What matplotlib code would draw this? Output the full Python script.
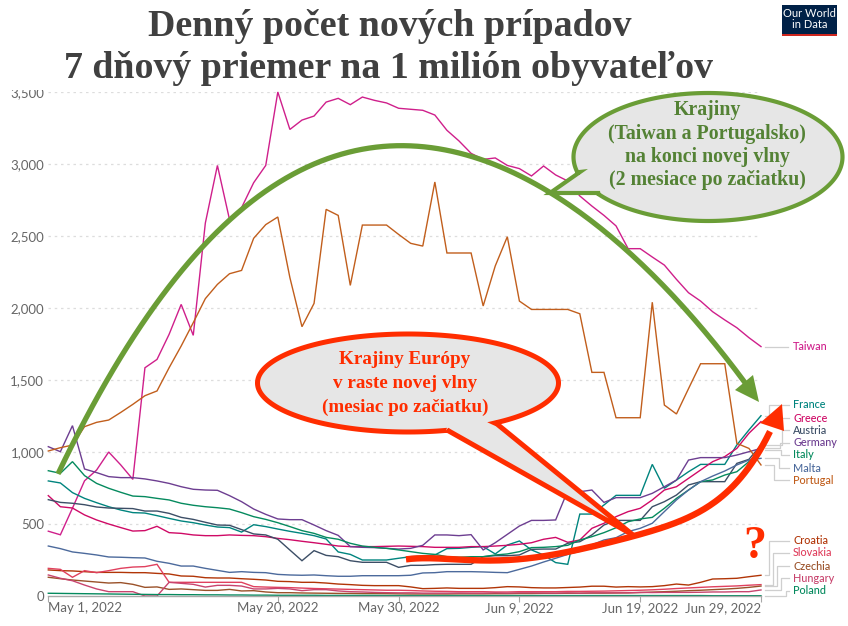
import numpy as np
import pandas as pd
import matplotlib
matplotlib.use("Agg")
import matplotlib.pyplot as plt
from matplotlib.patches import Polygon, Rectangle

W, H = 848, 626
dates = pd.date_range("2022-05-01", periods=60)

taiwan = [450,425,610,800,875,1000,910,810,1585,1643, 1817,2025,1810,2590,2990,2615,2697,2870,2990,3500,
          3240,3305,3333,3430,3456,3412,3465,3442,3424,3387, 3380,3373,3340,3234,3160,3074,3032,3042,2990,2968,
          2917,2986,2924,2882,2778,2708,2643,2570,2412,2412, 2354,2298,2199,2106,2048,1974,1917,1863,1794,1732]
portugal = [1007,1030,1048,1176,1206,1222,1275,1331,1391,1424, 1585,1736,1898,2065,2164,2238,2261,2484,2579,2632,
            2211,1870,2032,2685,2643,2157,2576,2576,2576,2511, 2449,2430,2875,2382,2382,2382,2014,2292,2495,2048,
            1990,1990,1990,1990,1960,1553,1553,1238,1238,1238, 2040,1326,1264,1440,1613,1613,1613,1060,1025,910]
germany = [1037,1002,1183,882,857,829,822,822,813,799, 782,759,741,736,734,697,655,604,567,535,
           530,530,493,454,421,343,338,336,331,326, 331,352,424,424,419,426,320,370,428,486,
           525,525,528,731,724,736,650,683,683,683, 713,759,805,944,961,961,961,979,1002,1025]
italy = [870,852,933,836,782,748,720,694,690,678, 667,644,630,620,613,604,579,551,532,509,
         482,454,435,407,394,366,347,338,331,320, 308,296,289,273,269,273,273,285,292,308,
         336,338,343,352,389,412,440,474,516,535, 546,609,678,736,794,806,840,863,933,1014]
france = [799,785,718,678,648,620,597,579,576,558, 539,521,509,493,479,475,444,495,482,465,
          449,435,419,396,306,289,250,250,250,262, 273,278,285,329,331,338,343,292,354,382,
          320,285,232,220,569,569,632,699,699,699, 914,748,805,863,914,914,914,1049,1153,1252]
greece = [697,620,611,563,528,500,475,451,454,484, 440,435,424,419,419,424,421,419,412,400,
          391,380,370,359,347,343,343,343,345,347, 345,343,338,338,338,343,343,347,352,359,
          370,394,407,373,389,470,505,551,586,609, 667,736,759,817,875,933,968,1025,1130,1211]
austria = [669,650,644,634,618,611,609,607,590,590, 574,546,532,512,493,491,461,431,424,394,
           319,245,315,282,273,245,234,234,234,199, 213,213,218,220,220,220,273,280,280,285,
           324,326,326,366,377,424,493,525,525,525, 620,655,701,771,794,794,794,921,949,1049]
malta = [347,329,306,296,285,271,269,266,264,241, 227,208,208,192,178,164,169,164,162,150,
         146,144,146,141,137,137,141,141,141,141, 144,160,162,169,169,169,167,164,162,185,
         208,236,262,289,310,355,389,405,447,470, 505,586,667,736,794,833,868,910,944,956]
croatia = [181,176,174,169,164,164,164,162,162,157, 153,139,137,127,125,125,120,116,111,102,
           100,95,95,90,83,79,74,72,72,72, 63,51,53,56,53,53,53,58,65,63,
           58,56,56,59,62,68,68,62,65,63, 65,72,83,76,95,118,120,123,134,144]
slovakia = [192,185,130,176,162,176,192,201,204,220, 95,95,95,95,95,95,95,65,62,60,
            58,55,52,50,48,46,44,42,40,40, 38,35,33,32,30,30,30,28,28,30,
            30,30,30,32,32,33,34,36,38,40, 43,47,52,56,60,64,67,70,75,79]
czechia = [130,120,111,104,97,90,93,81,60,63, 46,49,44,39,39,46,35,37,28,23,
           23,21,20,19,18,18,17,17,16,15, 14,14,14,14,15,15,15,16,16,17,
           17,18,18,19,19,20,20,21,22,24, 27,30,33,37,40,44,48,53,60,69]
hungary = [146,123,106,76,49,30,30,30,0,0, 95,88,81,62,74,74,69,49,49,53,
           49,37,44,44,35,30,28,25,23,22, 22,20,20,20,21,20,20,22,20,22,
           22,21,20,22,20,22,22,22,22,25, 24,25,25,25,26,28,28,30,30,42]
poland = [19,18,17,16,15,14,13,12,11,10, 10,9,9,8,8,7,7,6,6,5,
          5,5,5,4,4,4,4,4,3,3, 3,3,3,3,3,3,3,3,3,3,
          3,3,3,3,3,3,3,3,3,3, 3,3,3,3,3,2,2,2,2,2]

y_ticks = [0, 500, 1000, 1500, 2000, 2500, 3000, 3500]
y_labels = ["0", "500", "1,000", "1,500", "2,000", "2,500", "3,000", "3,500"]
x_ticks = ["2022-05-01", "2022-05-20", "2022-05-30", "2022-06-09", "2022-06-19", "2022-06-29"]
x_labels = ["May 1, 2022", "May 20, 2022", "May 30, 2022", "Jun 9, 2022", "Jun 19, 2022", "Jun 29, 2022"]

# name, values, colour, label y (px), elbow x (px)
series = [
    ("Taiwan", taiwan, "#cf1f8b", 347, None),
    ("France", france, "#00847e", 405, 769),
    ("Greece", greece, "#cf0a66", 418, 779),
    ("Austria", austria, "#3c4e66", 430, 782),
    ("Germany", germany, "#6d3e91", 443, 780),
    ("Italy", italy, "#058a5e", 455, 781),
    ("Malta", malta, "#4c6a9c", 468, 779),
    ("Portugal", portugal, "#c15e1c", 480, 774),
    ("Croatia", croatia, "#b13507", 541, 769),
    ("Slovakia", slovakia, "#e0405e", 553, 773),
    ("Czechia", czechia, "#9a5129", 566, 777),
    ("Hungary", hungary, "#c8446e", 578, 781),
    ("Poland", poland, "#058a5e", 591, 786),
]

GREEN, GREEN_TXT = "#6a9d36", "#548235"
RED = "#ff2d00"
GREY = "#e6e6e6"
SERIF = "Liberation Serif"

fig = plt.figure(figsize=(W / 100, H / 100), dpi=100, facecolor="white")
L, R, T, B = 48.3, 761.0, 92.0, 596.0
ax = fig.add_axes([L / W, 1 - B / H, (R - L) / W, (B - T) / H])
ax.set_xlim(dates[0], dates[59])
ax.set_ylim(0, 3500)
for s in ["top", "right", "left"]:
    ax.spines[s].set_visible(False)
ax.spines["bottom"].set_color("#a8a8a8")
ax.spines["bottom"].set_linewidth(1)
ax.set_yticks(y_ticks, y_labels, family="Lato", fontsize=9.5, color="#666666")
ax.tick_params(axis="y", length=0, pad=3)
ax.set_xticks(pd.to_datetime(x_ticks), x_labels, family="Lato", fontsize=9.5, color="#666666")
ax.tick_params(axis="x", length=4, color="#a8a8a8", pad=0.5)
xt = ax.get_xticklabels()
xt[0].set_ha("left")
xt[-1].set_ha("right")
for v in y_ticks[1:]:
    ax.axhline(v, color="#dddddd", lw=0.9, ls=(0, (2, 3)), zorder=0)
for name, vals, col, ly, ex in series:
    ax.plot(dates, vals, color=col, lw=1.0, zorder=2, clip_on=False, solid_joinstyle="miter")

# Overlay in pixel coordinates for the slide annotations
ov = fig.add_axes([0, 0, 1, 1], facecolor="none")
ov.set_xlim(0, W)
ov.set_ylim(H, 0)
ov.axis("off")

def val_to_px(v):
    return B - v * (B - T) / 3500

for name, vals, col, ly, ex in series:
    ey = val_to_px(vals[-1])
    if ex is None:
        xs, ys = [765, 788], [ey, ey]
    else:
        xs, ys = [765, ex, ex, 789], [ey, ey, ly, ly]
    ov.plot(xs, ys, color="#cfcfcf", lw=0.9, zorder=1)
    ov.text(793, ly, name, color=col, family="Lato", fontsize=7.8, va="center", ha="left",
            fontweight="medium")

# White band of the slide title, which hides the top of the 3,500 label
ov.add_patch(Rectangle((0, 0), W, 89.5, fc="white", ec="none", zorder=2))
ov.text(390, 26, "Denný počet nových prípadov", family=SERIF, fontweight="bold", fontsize=27.3,
        color="#404040", ha="center", va="center", zorder=3)
ov.text(388, 68.5, "7 dňový priemer na 1 milión obyvateľov", family=SERIF, fontweight="bold", fontsize=27.3,
        color="#404040", ha="center", va="center", zorder=3)

# Logo
ov.add_patch(Rectangle((782, 5), 55, 31, fc="#002147", ec="none", zorder=3))
ov.add_patch(Rectangle((782, 33.5), 55, 2.5, fc="#ce261e", ec="none", zorder=4))
ov.text(809.5, 19, "Our World\nin Data", color="white", family="Lato", fontsize=8, ha="center",
        va="center", linespacing=1.0, zorder=4)

def callout(cx, cy, w, h, tip, b1, b2, ec, lw):
    a1 = np.arctan2((b1[1] - cy) / (h / 2), (b1[0] - cx) / (w / 2))
    a2 = np.arctan2((b2[1] - cy) / (h / 2), (b2[0] - cx) / (w / 2))
    d = (a1 - a2) % (2 * np.pi)
    if d < np.pi:
        t = np.linspace(a2, a2 - (2 * np.pi - d), 240)
    else:
        t = np.linspace(a2, a2 + d, 240)
    pts = np.c_[cx + w / 2 * np.cos(t), cy + h / 2 * np.sin(t)]
    pts = np.vstack([b2, pts, b1, tip])
    ov.add_patch(Polygon(pts, closed=True, fc=GREY, ec=ec, lw=lw, joinstyle="miter", zorder=6))

# Green arc
gx = [58, 107, 203, 240, 307, 400, 550, 630, 743]
gy = [474, 380, 247, 210, 168, 145, 193, 253, 380]
c = np.polyfit(gx, gy, 5)
xx = np.linspace(58, 746, 200)
ov.plot(xx, np.polyval(c, xx), color=GREEN, lw=3.8, solid_capstyle="butt", zorder=5)
ov.add_patch(Polygon([(759, 402), (735, 390), (753, 375)], closed=True, fc=GREEN, ec="none", zorder=5))

callout(708, 157, 269, 128, (550, 193), (580, 172), (600, 193), GREEN, 3)
for y, t in zip([110, 134, 157, 180],
                ["Krajiny", "(Taiwan a Portugalsko)", "na konci novej vlny", "(2 mesiace po začiatku)"]):
    ov.text(707, y, t, family=SERIF, fontweight="bold", fontsize=14.3, color=GREEN_TXT,
            ha="center", va="center", zorder=7)

callout(408, 383, 301, 98, (633, 535), (447, 430), (497, 424), RED, 3.6)
for y, t in zip([360, 383, 407], ["Krajiny Európy", "v raste novej vlny", "(mesiac po začiatku)"]):
    ov.text(405, y, t, family=SERIF, fontweight="bold", fontsize=13.8, color=RED,
            ha="center", va="center", zorder=7)

# Red arrow
rx = [406, 447, 520, 570, 633, 703, 747, 770]
ry = [559, 560, 557, 553, 537, 507, 473, 430]
c = np.polyfit(rx, ry, 5)
xx = np.linspace(406, 770, 200)
ov.plot(xx, np.polyval(c, xx), color=RED, lw=4.6, solid_capstyle="butt", zorder=8)
ov.add_patch(Polygon([(782, 404), (760, 423), (784, 431)], closed=True, fc=RED, ec="none", zorder=8))

ov.text(755, 547, "?", family=SERIF, fontweight="bold", fontsize=33, color=RED, ha="center",
        va="center", zorder=8)

fig.savefig("out.png", dpi=100)
